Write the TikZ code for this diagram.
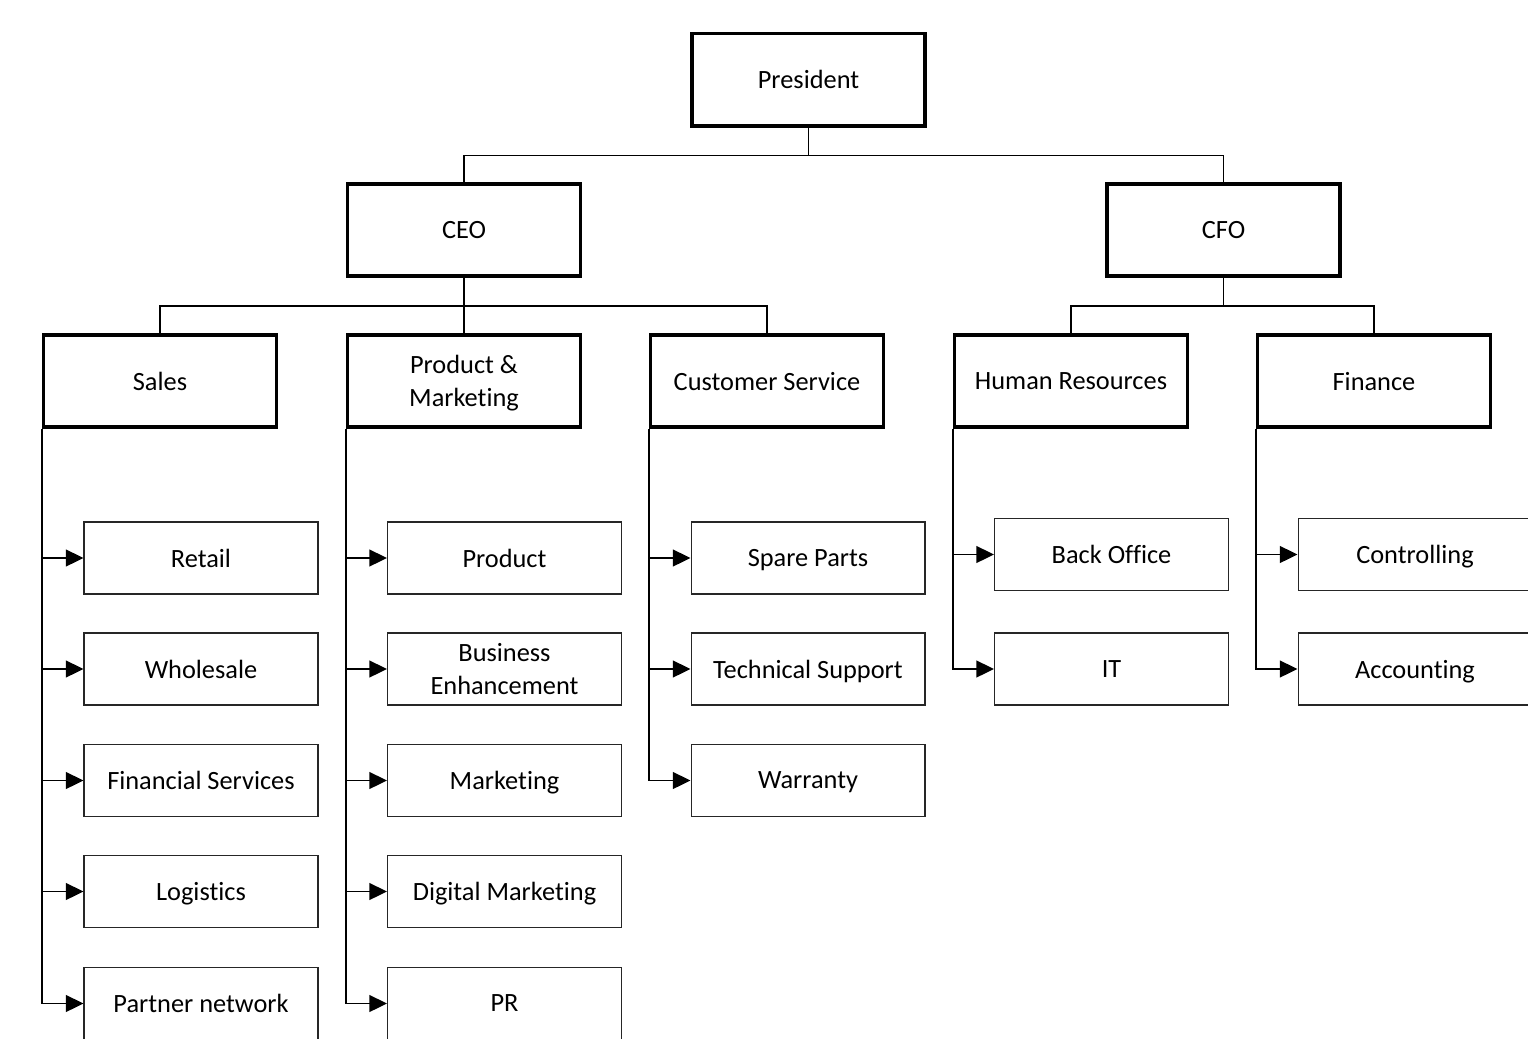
\documentclass[tikz,border=0pt]{standalone}
\usepackage{fontspec}
\setmainfont{Carlito}[Ligatures={NoCommon,NoRare,NoContextual}, Contextuals=NoAlternate]
\usepackage{tikz}
\usetikzlibrary{arrows.meta}

\tikzset{
	head/.style={draw, line width=2pt, rectangle, fill=white, minimum width=4.66cm, minimum height=1.85cm, align=center, text depth=0pt, font=\fontsize{15}{18.5}\selectfont},
	unit/.style={draw=black!85, line width=0.6pt, rectangle, fill=white, minimum width=4.68cm, minimum height=1.44cm, align=center, text depth=0pt, font=\fontsize{15}{18.5}\selectfont},
	conn/.style={line width=1.1pt},
	arr/.style={line width=1.1pt, -{Triangle[length=10pt, width=9.5pt]}}
}

\begin{document}
\begin{tikzpicture}[x=0.02cm, y=-0.02cm]
	\clip (0,0) rectangle (1528,1038);

	\node (pres) at (808.5,79.5) [head] {President};
	\node (ceo) at (464,230) [head] {CEO};
	\node (cfo) at (1223.5,230) [head] {CFO};

	\node (sales) at (160,381) [head] {Sales};
	\node (prodm) at (464,381) [head] {Product \&\\Marketing};
	\node (cs) at (767,381) [head] {Customer Service};
	\node (hr) at (1071,381) [head] {Human Resources};
	\node (fin) at (1374,381) [head] {Finance};

	\draw[conn] (pres.south) -- ++(0,28) -| (ceo.north);
	\draw[conn] (pres.south) -- ++(0,28) -| (cfo.north);
	\draw[conn] (ceo.south) -- ++(0,28) -| (sales.north);
	\draw[conn] (ceo.south) -- (prodm.north);
	\draw[conn] (ceo.south) -- ++(0,28) -| (cs.north);
	\draw[conn] (cfo.south) -- ++(0,28) -| (hr.north);
	\draw[conn] (cfo.south) -- ++(0,28) -| (fin.north);

	% sales
	\node (retail) at (201,558) [unit] {Retail};
	\node (whole) at (201,669) [unit] {Wholesale};
	\node (finserv) at (201,780.5) [unit] {Financial Services};
	\node (logi) at (201,891.5) [unit] {Logistics};
	\node (partner) at (201,1003.5) [unit] {Partner network};
	\draw[arr] (sales.south west) |- (retail.west);
	\draw[arr] (sales.south west) |- (whole.west);
	\draw[arr] (sales.south west) |- (finserv.west);
	\draw[arr] (sales.south west) |- (logi.west);
	\draw[arr] (sales.south west) |- (partner.west);

	% product & marketing
	\node (prod) at (504.5,558) [unit] {Product};
	\node (busen) at (504.5,669) [unit] {Business\\Enhancement};
	\node (mkt) at (504.5,780.5) [unit] {Marketing};
	\node (dmkt) at (504.5,891.5) [unit] {Digital Marketing};
	\node (pr) at (504.5,1003.5) [unit] {PR};
	\draw[arr] (prodm.south west) |- (prod.west);
	\draw[arr] (prodm.south west) |- (busen.west);
	\draw[arr] (prodm.south west) |- (mkt.west);
	\draw[arr] (prodm.south west) |- (dmkt.west);
	\draw[arr] (prodm.south west) |- (pr.west);

	% customer service
	\node (spare) at (808,558) [unit] {Spare Parts};
	\node (tech) at (808,669) [unit] {Technical Support};
	\node (warr) at (808,780.5) [unit] {Warranty};
	\draw[arr] (cs.south west) |- (spare.west);
	\draw[arr] (cs.south west) |- (tech.west);
	\draw[arr] (cs.south west) |- (warr.west);

	% human resources
	\node (back) at (1111.5,554.5) [unit] {Back Office};
	\node (it) at (1111.5,669) [unit] {IT};
	\draw[arr] (hr.south west) |- (back.west);
	\draw[arr] (hr.south west) |- (it.west);

	% finance
	\node (ctrl) at (1415,554.5) [unit] {Controlling};
	\node (acct) at (1415,669) [unit] {Accounting};
	\draw[arr] (fin.south west) |- (ctrl.west);
	\draw[arr] (fin.south west) |- (acct.west);
\end{tikzpicture}
\end{document}
